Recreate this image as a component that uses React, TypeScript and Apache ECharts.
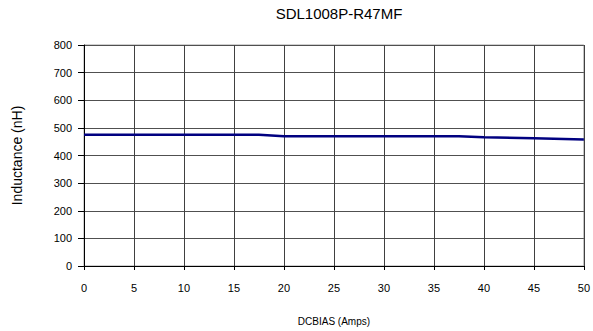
import React, { useEffect, useRef } from "react";
import * as echarts from "echarts";

const title = "SDL1008P-R47MF";
const xName = "DCBIAS (Amps)";
const yName = "Inductance (nH)";
const biasAmps = [0, 5, 10, 15, 17.5, 20, 25, 30, 35, 37.5, 40, 45, 50];
const inductanceNH = [475, 475, 475, 475, 475, 470, 470, 470, 470, 470, 466, 462, 458];

export default function App() {
  const ref = useRef<HTMLDivElement>(null);
  useEffect(() => {
    if (!ref.current) return;
    const chart = echarts.init(ref.current, null, { renderer: "svg" });
    const font = "'Liberation Sans', Arial, sans-serif";
    chart.setOption({
      animation: false,
      backgroundColor: "#ffffff",
      title: {
        text: title,
        left: 334,
        textAlign: "center",
        top: 1,
        textStyle: { fontFamily: font, fontSize: 15, fontWeight: "normal", color: "#000" },
      },
      grid: {
        left: 84,
        right: 9,
        top: 45,
        bottom: 60,
        show: true,
        borderColor: "#a0a0a0",
        borderWidth: 1,
      },
      xAxis: {
        type: "value",
        min: 0,
        max: 50,
        interval: 5,
        name: xName,
        nameLocation: "middle",
        nameGap: 50,
        nameTextStyle: { fontFamily: font, fontSize: 10, color: "#000" },
        axisLine: { show: true, lineStyle: { color: "#000", width: 1 } },
        axisTick: { show: true, length: 4, lineStyle: { color: "#000" } },
        axisLabel: { fontFamily: font, fontSize: 11, color: "#000", margin: 16 },
        splitLine: { show: true, lineStyle: { color: "#404040", width: 1 } },
      },
      yAxis: {
        type: "value",
        min: 0,
        max: 800,
        interval: 100,
        name: yName,
        nameLocation: "middle",
        nameGap: 60,
        nameTextStyle: { fontFamily: font, fontSize: 14, color: "#000" },
        axisLine: { show: true, lineStyle: { color: "#000", width: 1 } },
        axisTick: { show: true, length: 6, lineStyle: { color: "#000" } },
        axisLabel: { fontFamily: font, fontSize: 11, color: "#000", margin: 12 },
        splitLine: { show: true, lineStyle: { color: "#505050", width: 1 } },
      },
      series: [
        {
          type: "line",
          data: biasAmps.map((x, i) => [x, inductanceNH[i]]),
          showSymbol: false,
          symbol: "none",
          lineStyle: { color: "#000080", width: 2.5 },
        },
      ],
    });
    return () => chart.dispose();
  }, []);
  return <div ref={ref} style={{ width: 593, height: 331, position: "absolute", left: 0, top: 0 }} />;
}
